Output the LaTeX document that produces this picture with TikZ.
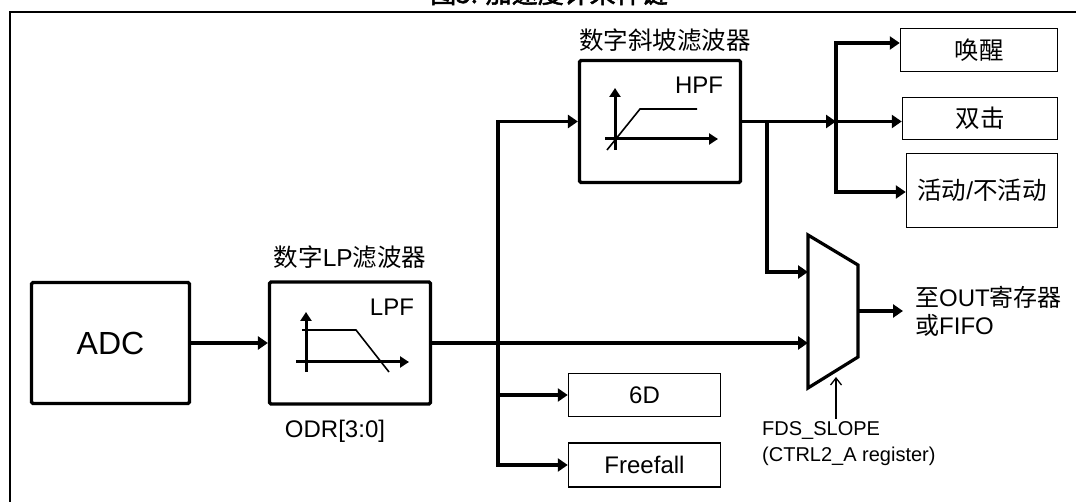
\documentclass[tikz,border=0pt]{standalone}
\usepackage{fontspec}
\setmainfont{Liberation Sans}
\newfontfamily\cjk{Noto Sans CJK SC}
\newfontfamily\cjkb[FakeBold=2]{Noto Sans CJK SC}
\usetikzlibrary{arrows.meta}
\begin{document}
\begin{tikzpicture}[x=1pt,y=-1pt,
  thickln/.style={line width=3.2pt},
  arr/.style={line width=3.2pt,-{Triangle[length=10pt,width=13pt]}},
  axarr/.style={line width=3pt,-{Triangle[length=9pt,width=11pt]}},
  curve/.style={line width=1.6pt},
  blk/.style={draw,line width=3.2pt,rounded corners=1.5pt,minimum width=161pt,minimum height=122pt,inner sep=0pt},
  obox/.style={draw,line width=1.5pt,inner sep=0pt},
  f24/.style={font=\fontsize{24}{28}\selectfont},
  lbl/.style={font=\fontsize{24.5}{28}\selectfont,inner sep=0pt},
  small/.style={font=\fontsize{20}{26}\selectfont,inner sep=0pt}
]
\clip (0,0) rectangle (1076,502);
% title (clipped at top) and frame
\node[font=\cjkb\fontsize{26}{30}\selectfont,anchor=base,inner sep=0pt] (title) at (549,3) {图5. 加速度计采样链};
\draw[line width=2.5pt] (10,520) -- (10,12) -- (1090,12);

% blocks
\node[blk,minimum width=158pt,minimum height=121pt,font=\fontsize{32}{36}\selectfont] (adc) at (110.5,343) {ADC};
\node[blk] (lpf) at (350,343) {};
\node[blk] (hpf) at (660,121.5) {};
\node[lbl] (lpflbl) at (350,257) {{\cjk 数字}LP{\cjk 滤波器}};
\node[lbl] (hpflbl) at (665,40) {{\cjk 数字斜坡滤波器}};
\node[f24,inner sep=0pt] (odr) at (335,431) {ODR[3:0]};
\node[f24,inner sep=0pt] (lpft) at (392,307) {LPF};
\node[f24,inner sep=0pt] (hpft) at (699,85) {HPF};

% filter sketches
\draw[axarr] (306,372) -- (306,312);
\draw[axarr] (296,362) -- (409,362);
\draw[curve] (302,330) -- (356,330) -- (389,372);
\draw[axarr] (615,150) -- (615,88);
\draw[axarr] (605,139) -- (718,139);
\draw[curve] (607,150) -- (640,109) -- (697,109);

% output boxes
\node[obox,f24,minimum width=152pt,minimum height=43pt] (d6) at (644.5,395) {6D};
\node[obox,f24,minimum width=152pt,minimum height=44pt] (ff) at (644.5,465) {Freefall};
\node[obox,lbl,minimum width=157pt,minimum height=43pt] (wake) at (979,50) {\cjk 唤醒};
\node[obox,lbl,minimum width=155pt,minimum height=42pt] (tap) at (980,118.5) {\cjk 双击};
\node[obox,lbl,minimum width=151pt,minimum height=74pt] (act) at (982,190.5) {{\cjk 活动}/{\cjk 不活动}};

% multiplexer
\draw[thickln,line join=miter] (808,235) -- (858,265) -- (858,357) -- (808,388) -- cycle;
\coordinate (mi1) at (808,272);
\coordinate (mi2) at (808,343);
\coordinate (mo) at (858,311);
\coordinate (sel) at (836,377);
\node[f24,anchor=west,align=left,inner xsep=12pt,inner ysep=0pt] (out) at (903,311) {{\cjk 至}OUT{\cjk 寄存器}\\{\cjk 或}FIFO};
\node[small,anchor=west,align=left] (fds) at (762,444) {FDS\_SLOPE\\(CTRL2\_A register)};

% connectors
\coordinate (j1) at (498,343);
\coordinate (j2) at (836,121.5);
\coordinate (j3) at (767,121.5);
\draw[arr] (adc) -- (lpf);
\draw[arr] (lpf.east) -- (mi2);
\draw[arr] (j1) |- (hpf.west);
\draw[arr] (j1) |- (d6.west);
\draw[arr] (j1) |- (ff.west);
\draw[arr] (hpf.east) -- (j2);
\draw[arr] (j2) |- ([yshift=7pt]wake.west);
\draw[arr] (j2) -- (j2 -| tap.west);
\draw[arr] (j2) |- ([yshift=-1.5pt]act.west);
\draw[arr] (j3) |- (mi1);
\draw[arr] (mo) -- (out.west);
\draw[line width=1.3pt,-{Straight Barb[length=7pt,width=11pt]}] (sel |- fds.north) ++(0,-3) -- (sel);
\end{tikzpicture}
\end{document}
